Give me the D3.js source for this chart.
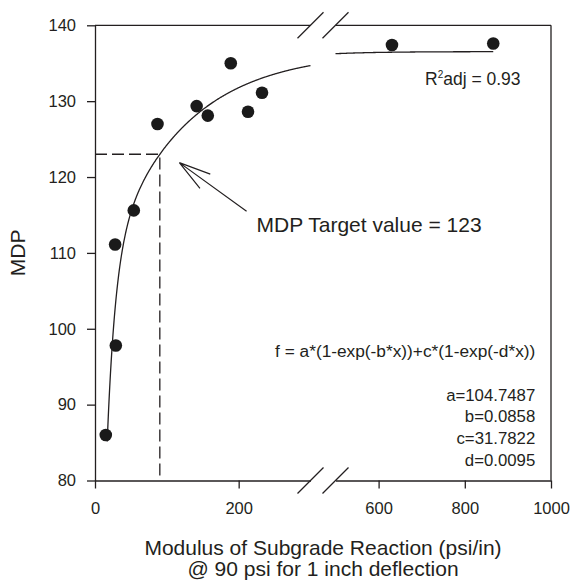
<!DOCTYPE html>
<html>
<head>
<meta charset="utf-8">
<script src="https://cdn.jsdelivr.net/npm/d3@7"></script>
<style>
    body { margin: 0; background: #fff; }
    text { font-family: "Liberation Sans", Arial, Helvetica, sans-serif; fill: #231f20; }
</style>
</head>
<body>
<div id="chart"></div>
<script>
// measured points (modulus psi/in, MDP)
const modulus = [15, 29, 28, 54, 87, 141.5, 157, 189, 213, 232.5, 631, 866];
const mdp = [86.0, 97.8, 111.1, 115.6, 127.0, 129.35, 128.1, 135.0, 128.6, 131.1, 137.4, 137.6];

// fit  f = a*(1-exp(-b*x))+c*(1-exp(-d*x))
const fitA = 104.7487, fitB = 0.0858, fitC = 31.7822, fitD = 0.0095;
const r2adj = 0.93;
const targetValue = 123;
const curveStart = 17;

const xTicksLeft = [0, 200];
const xTicksRight = [600, 800, 1000];
const yTicks = [80, 90, 100, 110, 120, 130, 140];

const width = 574, height = 584;
const mLeft = 95, mRight = 551, mTop = 25.3, mBottom = 480.5;

const xLeft = d3.scaleLinear().domain([0, 300]).range([mLeft, 310.5]);
const xRight = d3.scaleLinear().domain([500, 1000]).range([335.5, mRight]);
const y = d3.scaleLinear().domain([80, 140]).range([mBottom, mTop]);
const xs = v => v <= 400 ? xLeft(v) : xRight(v);

const f = x => fitA * (1 - Math.exp(-fitB * x)) + fitC * (1 - Math.exp(-fitD * x));

// x where the fit reaches the target
let lo = 0, hi = 300;
for (let i = 0; i < 60; i++) {
    const mid = (lo + hi) / 2;
    if (f(mid) < targetValue) lo = mid; else hi = mid;
}
const targetX = (lo + hi) / 2;

const svg = d3.select("#chart").append("svg")
    .attr("width", width)
    .attr("height", height);

const ink = "#231f20";

// axes
function xAxis(scale, major, minor) {
    const g = svg.append("g").attr("transform", "translate(0," + mBottom + ")");
    g.call(d3.axisBottom(scale).tickValues(minor).tickSize(5).tickSizeOuter(0).tickFormat(""));
    g.call(d3.axisBottom(scale).tickValues(major).tickSize(8).tickSizeOuter(0).tickPadding(14).tickFormat(d3.format("d")));
    g.selectAll("path, line").attr("stroke", ink).attr("stroke-width", 1.3);
    g.selectAll("text").style("font-size", "16.5px").attr("fill", ink);
    return g;
}
xAxis(xLeft, xTicksLeft, d3.range(40, 300, 40).filter(v => v % 200 != 0));
xAxis(xRight, xTicksRight, d3.range(520, 1000, 40).filter(v => v % 200 != 0));

const yg = svg.append("g").attr("transform", "translate(" + mLeft + ",0)");
yg.call(d3.axisLeft(y).tickValues(d3.range(80, 141, 2)).tickSize(5).tickSizeOuter(0).tickFormat(""));
yg.call(d3.axisLeft(y).tickValues(yTicks).tickSize(8).tickSizeOuter(0).tickPadding(11));
yg.selectAll("path, line").attr("stroke", ink).attr("stroke-width", 1.3);
yg.selectAll("text").style("font-size", "16.5px").attr("fill", ink);

// top and right frame
[[xLeft(0), xLeft(300)], [xRight(500), xRight(1000)]].forEach(function (s) {
    svg.append("line")
        .attr("x1", s[0]).attr("x2", s[1])
        .attr("y1", mTop).attr("y2", mTop)
        .attr("stroke", ink).attr("stroke-width", 1.3);
});
svg.append("line")
    .attr("x1", mRight).attr("x2", mRight)
    .attr("y1", mTop).attr("y2", mBottom)
    .attr("stroke", ink).attr("stroke-width", 1.3);

// break marks
[mTop, mBottom].forEach(function (yy) {
    [xLeft(300), xRight(500)].forEach(function (xx) {
        svg.append("line")
            .attr("x1", xx - 13).attr("y1", yy + 13)
            .attr("x2", xx + 13).attr("y2", yy - 13)
            .attr("stroke", ink).attr("stroke-width", 1.3);
    });
});

// fitted curve
const line = d3.line().x(d => xs(d)).y(d => y(f(d)));
[d3.range(curveStart, 300, 0.5).concat([300]), d3.range(500, d3.max(modulus), 2).concat([d3.max(modulus)])]
    .forEach(function (seg) {
        svg.append("path")
            .datum(seg)
            .attr("d", line)
            .attr("fill", "none")
            .attr("stroke", ink)
            .attr("stroke-width", 1.3);
    });

// target dashed lines
svg.append("path")
    .attr("d", "M" + xLeft(0) + "," + y(targetValue) + "H" + xLeft(targetX) + "V" + y(80))
    .attr("fill", "none")
    .attr("stroke", ink)
    .attr("stroke-width", 1.3)
    .attr("stroke-dasharray", "12,5");

// points
svg.selectAll(".pt")
    .data(modulus)
    .enter().append("circle")
    .attr("class", "pt")
    .attr("cx", d => xs(d))
    .attr("cy", (d, i) => y(mdp[i]))
    .attr("r", 6.3)
    .attr("fill", "#1a1a1a");

// arrow to the target point
const tip = [xLeft(117.4), y(121.9)], tail = [xLeft(211), y(115.5)];
const ang = Math.atan2(tail[1] - tip[1], tail[0] - tip[0]);
const wing = 33, spread = 15.5 * Math.PI / 180;
let ad = "M" + tail[0] + "," + tail[1] + "L" + tip[0] + "," + tip[1];
[-spread, spread].forEach(function (s) {
    ad += "M" + tip[0] + "," + tip[1] + "L" + (tip[0] + wing * Math.cos(ang + s)) + "," + (tip[1] + wing * Math.sin(ang + s));
});
svg.append("path").attr("d", ad).attr("fill", "none").attr("stroke", ink).attr("stroke-width", 1.2);

svg.append("text")
    .attr("x", 256.5).attr("y", 231.7)
    .style("font-size", "21px")
    .text("MDP Target value = " + targetValue);

// R2 annotation
const r2 = svg.append("text")
    .attr("x", 425).attr("y", 85)
    .style("font-size", "17.5px");
r2.append("tspan").text("R");
r2.append("tspan").attr("dy", -7).style("font-size", "10px").text("2");
r2.append("tspan").attr("dy", 7).text("adj = " + r2adj.toFixed(2));

svg.append("text")
    .attr("x", 535.3).attr("y", 357.3)
    .attr("text-anchor", "end")
    .style("font-size", "17.3px")
    .text("f = a*(1-exp(-b*x))+c*(1-exp(-d*x))");

const params = ["a=" + fitA, "b=" + fitB, "c=" + fitC, "d=" + fitD.toFixed(4)];
svg.selectAll(".param")
    .data(params)
    .enter().append("text")
    .attr("class", "param")
    .attr("x", 535.3)
    .attr("y", (d, i) => 400.7 + i * 21.6)
    .attr("text-anchor", "end")
    .style("font-size", "16.8px")
    .text(d => d);

// axis titles
svg.append("text")
    .attr("transform", "translate(25," + ((mTop + mBottom) / 2) + ") rotate(-90)")
    .attr("text-anchor", "middle")
    .style("font-size", "21px")
    .text("MDP");

svg.append("text")
    .attr("x", (mLeft + mRight) / 2).attr("y", 554.8)
    .attr("text-anchor", "middle")
    .style("font-size", "21px")
    .text("Modulus of Subgrade Reaction (psi/in)");
svg.append("text")
    .attr("x", (mLeft + mRight) / 2).attr("y", 575.8)
    .attr("text-anchor", "middle")
    .style("font-size", "21px")
    .text("@ 90 psi for 1 inch deflection");
</script>
</body>
</html>
